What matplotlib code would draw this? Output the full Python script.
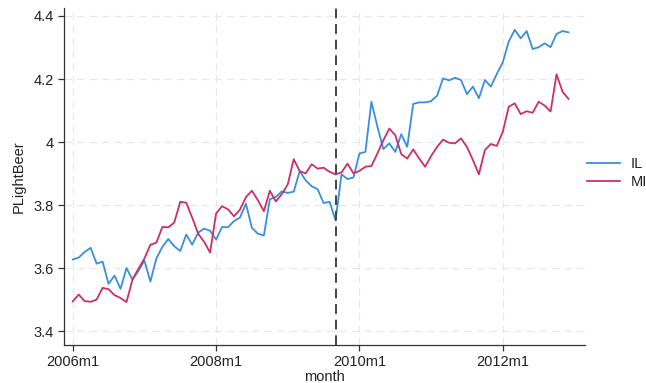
import matplotlib
matplotlib.use("Agg")
import matplotlib.pyplot as plt
import numpy as np

plt.rcParams['font.family'] = ['Liberation Sans', 'DejaVu Sans']

# Monthly series, 2006m1 .. 2012m12
start_year = 2006
il = [3.628, 3.634, 3.652, 3.665, 3.615, 3.621, 3.551, 3.577, 3.535, 3.601,
      3.564, 3.592, 3.625, 3.558, 3.631, 3.668, 3.693, 3.670, 3.655, 3.707,
      3.675, 3.713, 3.726, 3.719, 3.691, 3.731, 3.730, 3.750, 3.761, 3.805,
      3.728, 3.710, 3.704, 3.819, 3.826, 3.844, 3.839, 3.843, 3.908, 3.879,
      3.860, 3.851, 3.807, 3.811, 3.752, 3.898, 3.883, 3.888, 3.964, 3.969,
      4.128, 4.050, 3.978, 3.996, 3.969, 4.025, 3.985, 4.121, 4.126, 4.126,
      4.130, 4.147, 4.202, 4.196, 4.204, 4.197, 4.152, 4.176, 4.139, 4.197,
      4.176, 4.216, 4.253, 4.319, 4.356, 4.329, 4.352, 4.295, 4.301, 4.313,
      4.301, 4.343, 4.352, 4.348]
mi = [3.495, 3.517, 3.496, 3.494, 3.501, 3.538, 3.534, 3.515, 3.506, 3.493,
      3.564, 3.599, 3.631, 3.675, 3.681, 3.731, 3.730, 3.745, 3.811, 3.808,
      3.761, 3.710, 3.684, 3.650, 3.774, 3.797, 3.787, 3.765, 3.786, 3.826,
      3.846, 3.816, 3.781, 3.846, 3.812, 3.835, 3.866, 3.946, 3.908, 3.901,
      3.930, 3.916, 3.919, 3.906, 3.898, 3.904, 3.932, 3.901, 3.909, 3.922,
      3.924, 3.964, 4.006, 4.043, 4.022, 3.962, 3.948, 3.977, 3.948, 3.922,
      3.956, 3.985, 4.008, 3.998, 3.996, 4.012, 3.985, 3.943, 3.898, 3.975,
      3.994, 3.988, 4.033, 4.112, 4.123, 4.089, 4.098, 4.093, 4.128, 4.116,
      4.097, 4.215, 4.160, 4.137]
event_month = "2009m9"
x_ticks = ["2006m1", "2008m1", "2010m1", "2012m1"]
y_ticks = [3.4, 3.6, 3.8, 4.0, 4.2, 4.4]


def month_index(label):
    y, m = label.split("m")
    return (int(y) - start_year) * 12 + int(m) - 1


months = np.arange(len(il))

fig = plt.figure(figsize=(6.46, 3.83), dpi=100)
ax = fig.add_axes([0.0987, 0.0992, 0.8063, 0.8798])

blue = "#3a8fdc"
red = "#cc2f68"
grid_c = "#e8e8e8"

for yt in y_ticks:
    ax.axhline(yt, color=grid_c, lw=0.9, ls=(0, (6, 4)), zorder=0)
for xt in x_ticks:
    ax.axvline(month_index(xt), color=grid_c, lw=0.9, ls=(0, (6, 4)), zorder=0)

ax.plot(months, il, color=blue, lw=1.3, label="IL", zorder=3)
ax.plot(months, mi, color=red, lw=1.3, label="MI", zorder=3)
ax.axvline(month_index(event_month), color="#444444", lw=1.4,
           ls=(0, (5, 3)), zorder=4)

ax.set_xlim(-1.5, 85.7)
ax.set_ylim(3.357, 4.425)
ax.set_xticks([month_index(t) for t in x_ticks])
ax.set_xticklabels(x_ticks)
ax.set_yticks(y_ticks)
ax.set_yticklabels([f"{v:g}" for v in y_ticks])

for side in ("top", "right"):
    ax.spines[side].set_visible(False)
for side in ("left", "bottom"):
    ax.spines[side].set_color("#333333")
    ax.spines[side].set_linewidth(0.9)
ax.tick_params(axis="both", direction="out", length=4, width=0.9,
               color="#333333", labelsize=10.5, labelcolor="#222222", pad=3)

ax.set_xlabel("month", fontsize=10.5, color="#222222", labelpad=1)
ax.set_ylabel("PLightBeer", fontsize=10.5, color="#222222", labelpad=6)

leg = fig.legend(handles=ax.get_lines()[-3:-1], labels=["IL", "MI"],
                 loc="center left", bbox_to_anchor=(0.908, 1 - 173 / 383),
                 frameon=False, fontsize=10.5, handlelength=2.3,
                 handletextpad=0.7, labelspacing=0.3, borderaxespad=0,
                 borderpad=0)
for t in leg.get_texts():
    t.set_color("#222222")

fig.savefig("out.png", dpi=100)
